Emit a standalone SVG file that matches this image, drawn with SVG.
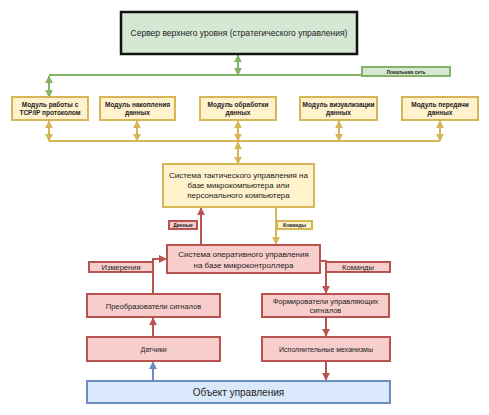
<svg xmlns="http://www.w3.org/2000/svg" width="489" height="415" viewBox="0 0 489 415">
<style>
text{font-family:"Liberation Sans",Arial,sans-serif;text-anchor:middle;fill:#222}
.g{fill:#d5e8d4;stroke:#82b366;stroke-width:2}
.y{fill:#fff2cc;stroke:#d6b656;stroke-width:2}
.r{fill:#f8cecc;stroke:#b85450;stroke-width:2}
.b{fill:#dae8fc;stroke:#6c8ebf;stroke-width:2}
.lg{stroke:#82b366;stroke-width:2;fill:none}
.ly{stroke:#d6b656;stroke-width:2;fill:none}
.lr{stroke:#b85450;stroke-width:2;fill:none}
.lb{stroke:#6c8ebf;stroke-width:2;fill:none}
.m{font-size:6.5px;font-weight:bold}
.s{font-size:5px;font-weight:bold}
</style>
<defs>
<marker id="ag" viewBox="0 0 10 10" refX="9" refY="5" markerWidth="4" markerHeight="4" orient="auto-start-reverse"><path d="M0,0L10,5L0,10z" fill="#82b366"/></marker>
<marker id="ay" viewBox="0 0 10 10" refX="9" refY="5" markerWidth="4" markerHeight="4" orient="auto-start-reverse"><path d="M0,0L10,5L0,10z" fill="#d6b656"/></marker>
<marker id="ar" viewBox="0 0 10 10" refX="9" refY="5" markerWidth="4" markerHeight="4" orient="auto-start-reverse"><path d="M0,0L10,5L0,10z" fill="#b85450"/></marker>
<marker id="ab" viewBox="0 0 10 10" refX="9" refY="5" markerWidth="4" markerHeight="4" orient="auto-start-reverse"><path d="M0,0L10,5L0,10z" fill="#6c8ebf"/></marker>
</defs>
<g id="connectors">
<line class="lg" x1="238" y1="55" x2="238" y2="75" marker-start="url(#ag)" marker-end="url(#ag)"/>
<line class="lg" x1="49" y1="75" x2="362" y2="75"/>
<line class="lg" x1="49" y1="76" x2="49" y2="97" marker-start="url(#ag)" marker-end="url(#ag)"/>
<line class="ly" x1="49" y1="141" x2="440" y2="141"/>
<line class="ly" x1="49" y1="121" x2="49" y2="141" marker-start="url(#ay)" marker-end="url(#ay)"/>
<line class="ly" x1="137" y1="121" x2="137" y2="141" marker-start="url(#ay)" marker-end="url(#ay)"/>
<line class="ly" x1="238" y1="121" x2="238" y2="141" marker-start="url(#ay)" marker-end="url(#ay)"/>
<line class="ly" x1="339" y1="121" x2="339" y2="141" marker-start="url(#ay)" marker-end="url(#ay)"/>
<line class="ly" x1="440" y1="121" x2="440" y2="141" marker-start="url(#ay)" marker-end="url(#ay)"/>
<line class="ly" x1="238" y1="142" x2="238" y2="164" marker-start="url(#ay)" marker-end="url(#ay)"/>
<line class="lr" x1="201" y1="245" x2="201" y2="208" marker-end="url(#ar)"/>
<line class="ly" x1="276" y1="207" x2="276" y2="244" marker-end="url(#ay)"/>
<polyline class="lr" points="153,294 153,259 166,259" marker-end="url(#ar)"/>
<line class="lr" x1="153" y1="337" x2="153" y2="318" marker-end="url(#ar)"/>
<line class="lb" x1="153" y1="381" x2="153" y2="362" marker-end="url(#ab)"/>
<polyline class="lr" points="320,261 326,261 326,293" marker-end="url(#ar)"/>
<line class="lr" x1="326" y1="317" x2="326" y2="336" marker-end="url(#ar)"/>
<line class="lr" x1="326" y1="361" x2="326" y2="380" marker-end="url(#ar)"/>
</g>
<g id="server"><rect x="121" y="12" width="236" height="42" fill="#d5e8d4" stroke="#111" stroke-width="2.5"/><text x="239" y="36" font-size="8.5">Сервер верхнего уровня (стратегического управления)</text></g>
<g id="lan"><rect class="g" x="362" y="67" width="88" height="9"/><text x="406" y="74" class="s">Локальная сеть</text></g>
<g id="m1"><rect class="y" x="12" y="97" width="76" height="23"/><text class="m" x="50" y="106.5">Модуль работы с</text><text class="m" x="50" y="115">TCP/IP протоколом</text></g>
<g id="m2"><rect class="y" x="100" y="97" width="75" height="23"/><text class="m" x="137.5" y="106.5">Модуль накопления</text><text class="m" x="137.5" y="115">данных</text></g>
<g id="m3"><rect class="y" x="200" y="97" width="76" height="23"/><text class="m" x="238" y="106.5">Модуль обработки</text><text class="m" x="238" y="115">данных</text></g>
<g id="m4"><rect class="y" x="300" y="97" width="77" height="23"/><text class="m" x="338.5" y="106.5">Модуль визуализации</text><text class="m" x="338.5" y="115">данных</text></g>
<g id="m5"><rect class="y" x="402" y="97" width="76" height="23"/><text class="m" x="440" y="106.5">Модуль передачи</text><text class="m" x="440" y="115">данных</text></g>
<g id="tactical"><rect class="y" x="163" y="164" width="151" height="43"/><text font-size="8" x="238.5" y="178">Системa тактического управления на</text><text font-size="8" x="238.5" y="188">базе микрокомпьютера или</text><text font-size="8" x="238.5" y="198">персонального компьютера</text></g>
<g id="lbl-data"><rect class="r" x="169" y="221" width="28" height="8" stroke-width="1.5"/><text class="s" x="183" y="227">Данные</text></g>
<g id="lbl-cmd1"><rect class="y" x="277" y="221" width="35" height="8" stroke-width="1.5"/><text class="s" x="294.5" y="227">Команды</text></g>
<g id="operational"><rect class="r" x="167" y="245" width="153" height="28"/><text font-size="8" x="243.5" y="257">Система оперативного управления</text><text font-size="8" x="243.5" y="268">на базе микроконтроллера</text></g>
<g id="lbl-meas"><rect class="r" x="89" y="262" width="64" height="10"/><text font-size="7.5" x="121" y="270">Измерения</text></g>
<g id="lbl-cmd2"><rect class="r" x="326" y="262" width="64" height="10"/><text font-size="7.5" x="358" y="270">Команды</text></g>
<g id="converters"><rect class="r" x="87" y="294" width="133" height="23"/><text font-size="7.5" x="153.5" y="308.5">Преобразователи сигналов</text></g>
<g id="shapers"><rect class="r" x="262" y="294" width="127" height="23"/><text font-size="7.5" x="325.5" y="303.5">Формирователи управляющих</text><text font-size="7.5" x="325.5" y="313">сигналов</text></g>
<g id="sensors"><rect class="r" x="87" y="337" width="133" height="24"/><text font-size="7" x="153.5" y="351.5">Датчики</text></g>
<g id="actuators"><rect class="r" x="262" y="337" width="128" height="24"/><text font-size="7" x="326" y="351.5">Исполнительные механизмы</text></g>
<g id="object"><rect class="b" x="87" y="381" width="303" height="22"/><text font-size="10" x="238.5" y="395.5">Объект управления</text></g>
</svg>
